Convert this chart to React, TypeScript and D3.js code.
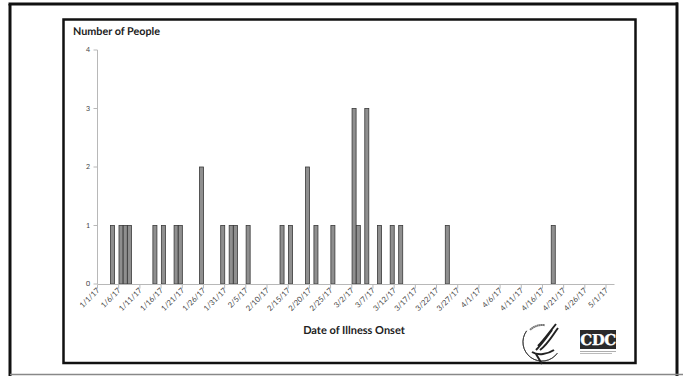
import React from "react";
import * as d3 from "d3";

const onsetDates = ["1/4/17","1/6/17","1/7/17","1/8/17","1/14/17","1/16/17","1/19/17","1/20/17","1/25/17","1/30/17","2/1/17","2/2/17","2/5/17","2/13/17","2/15/17","2/19/17","2/21/17","2/25/17","3/2/17","3/3/17","3/5/17","3/8/17","3/11/17","3/13/17","3/24/17","4/18/17"];
const peopleCounts = [1,1,1,1,1,1,1,1,2,1,1,1,1,1,1,2,1,1,3,1,3,1,1,1,1,1];
const xTickLabels = ["1/1/17","1/6/17","1/11/17","1/16/17","1/21/17","1/26/17","1/31/17","2/5/17","2/10/17","2/15/17","2/20/17","2/25/17","3/2/17","3/7/17","3/12/17","3/17/17","3/22/17","3/27/17","4/1/17","4/6/17","4/11/17","4/16/17","4/21/17","4/26/17","5/1/17"];
const yTicks = [0,1,2,3,4];
const axisStart = "1/1/17";
const axisEnd = "5/3/17";
const yTitle = "Number of People";
const xTitle = "Date of Illness Onset";

const parse = d3.timeParse("%-m/%-d/%y");
const FONT = "Lato, 'Open Sans', sans-serif";

export default function App() {
  const W = 683, H = 376;
  const x = d3.scaleTime().domain([parse(axisStart)!, parse(axisEnd)!]).range([97.5, 614.5]);
  const y = d3.scaleLinear().domain([0, 4]).range([284, 50]);
  const bars = onsetDates.map((d, i) => {
    const s = parse(d)!;
    const e = d3.timeDay.offset(s, 1);
    return { x0: x(s), x1: x(e), v: peopleCounts[i] };
  });
  return (
    <svg width={W} height={H} style={{ position: "absolute", left: 0, top: 0, background: "#fff" }} fontFamily={FONT} textRendering="geometricPrecision">
      <rect x={0} y={0} width={W} height={H} fill="#fff" />
      {/* outer frame */}
      <line x1={10} y1={4} x2={10} y2={376} stroke="#111" strokeWidth={3} />
      <line x1={8.5} y1={4} x2={678} y2={4} stroke="#111" strokeWidth={3} />
      <line x1={677} y1={2.5} x2={677} y2={376} stroke="#111" strokeWidth={3} />
      <line x1={10} y1={374.5} x2={683} y2={374.5} stroke="#888" strokeWidth={1.5} />
      {/* inner frame */}
      <rect x={63.5} y={19.5} width={572} height={343.5} fill="#fff" stroke="#111" strokeWidth={2.5} />
      {/* y title */}
      <text x={73} y={35} fontSize={10.8} fontWeight="bold" fill="#222">{yTitle}</text>
      {/* y axis */}
      <line x1={97.5} y1={y(4)} x2={97.5} y2={y(0)} stroke="#b8b8b8" strokeWidth={1} />
      {yTicks.map(t => (
        <g key={t}>
          <line x1={93.5} x2={97.5} y1={y(t)} y2={y(t)} stroke="#b8b8b8" />
          <text x={90} y={y(t)} dy="0.35em" fontSize={7} textAnchor="end" fill="#444">{t}</text>
        </g>
      ))}
      {/* bars */}
      {bars.map((b, i) => (
        <rect key={i} x={b.x0 + 0.3} y={y(b.v)} width={b.x1 - b.x0 - 0.2} height={y(0) - y(b.v)} fill="#8f8f8f" stroke="#3a3a3a" strokeWidth={0.8} />
      ))}
      {/* x axis */}
      <line x1={97.5} x2={614.5} y1={284.5} y2={284.5} stroke="#b8b8b8" strokeWidth={1} />
      {xTickLabels.map(l => {
        const px = x(parse(l)!);
        return (
          <g key={l}>
            <line x1={px} x2={px} y1={284.5} y2={288.5} stroke="#b8b8b8" />
            <text transform={`translate(${px + 2.5},${291}) rotate(-45)`} fontSize={7.6} textAnchor="end" fill="#444">{l}</text>
          </g>
        );
      })}
      <text x={354} y={334} fontSize={11} fontWeight="bold" textAnchor="middle" fill="#222">{xTitle}</text>
      {/* HHS logo (approx) */}
      <g transform="translate(542,342)" fill="none" stroke="#333">
        <path d={d3.arc()({ innerRadius: 19, outerRadius: 19, startAngle: -Math.PI * 0.3, endAngle: -Math.PI * 1.3 }) || ""} strokeWidth={0.8} />
        <path d={d3.arc()({ innerRadius: 17, outerRadius: 17, startAngle: Math.PI * 0.05, endAngle: -Math.PI * 0.25 }) || ""} strokeWidth={2} stroke="#777" strokeDasharray="1 1" />
        <path d="M14,-18 C6,-8 2,-2 -4,4 M10,-12 C4,-4 0,2 -6,8 M16,-14 C10,-6 6,2 -2,8 M-10,10 C-4,14 6,12 12,8" strokeWidth={2} stroke="#222" />
        <path d="M-6,12 L0,22" strokeWidth={2} stroke="#222" />
      </g>
      {/* CDC logo (approx) */}
      <g>
        <rect x={580} y={330} width={36} height={19} fill="#2a2a2a" />
        <text x={598} y={345} fontSize={15} fontFamily="'DejaVu Serif', serif" fontWeight="bold" textAnchor="middle" fill="#fff" stroke="#fff" strokeWidth={0.3} letterSpacing={-0.5}>CDC</text>
        <line x1={580} x2={616} y1={351.5} y2={351.5} stroke="#999" strokeWidth={0.8} />
        <line x1={580} x2={612} y1={353.5} y2={353.5} stroke="#aaa" strokeWidth={0.8} />
      </g>
    </svg>
  );
}
